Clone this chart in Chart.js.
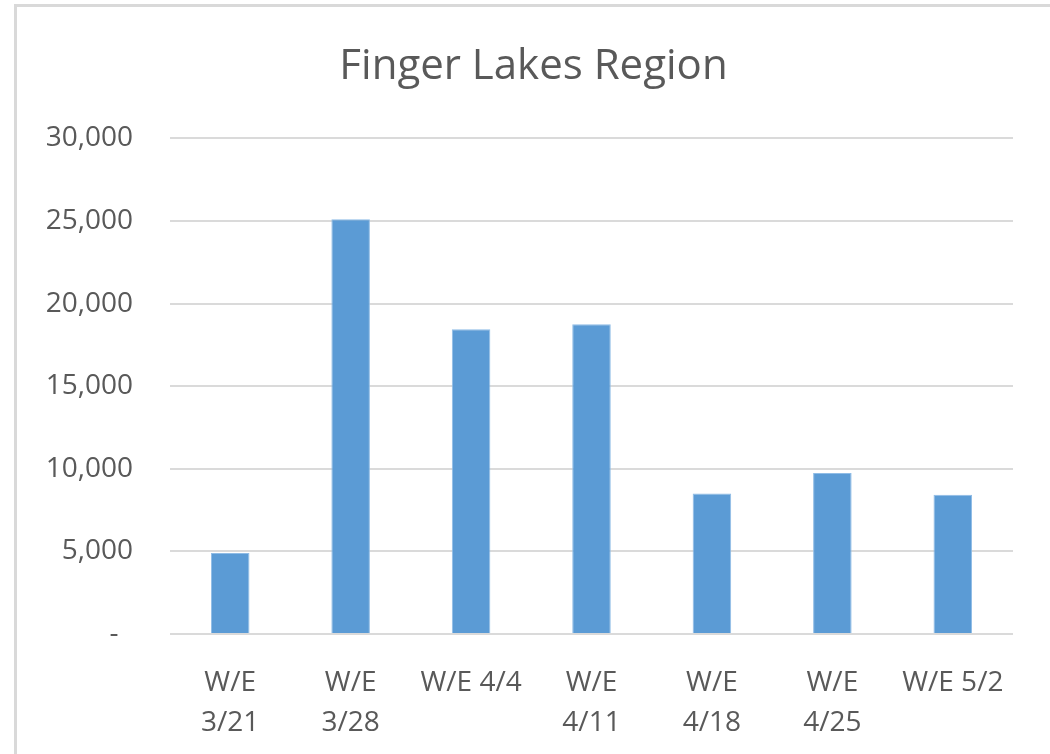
<!DOCTYPE html>
<html>
<head>
<meta charset="utf-8">
<script src="https://cdn.jsdelivr.net/npm/chart.js@4"></script>
<style>
    html, body { margin: 0; padding: 0; background: #ffffff; overflow: hidden; }
    .frame {
        position: absolute;
        left: 14px;
        top: 4px;
        border-left: 3px solid #d9d9d9;
        border-top: 3px solid #d9d9d9;
    }
    canvas { display: block; }
</style>
</head>
<body>
<div class="frame">
    <canvas id="regionChart" width="1033" height="747"></canvas>
</div>
<script>
const weekLabels = [
    ['W/E', '3/21'],
    ['W/E', '3/28'],
    'W/E 4/4',
    ['W/E', '4/11'],
    ['W/E', '4/18'],
    ['W/E', '4/25'],
    'W/E 5/2',
];
const weeklyCounts = [4900, 25100, 18450, 18750, 8500, 9750, 8430];
const yTickValues = [0, 5000, 10000, 15000, 20000, 25000, 30000];

const textColor = '#595959';
const fontFamily = '"Open Sans", "Noto Sans", sans-serif';

const ctx = document.getElementById('regionChart').getContext('2d');
new Chart(ctx, {
    type: 'bar',
    data: {
        labels: weekLabels,
        datasets: [
            {
                label: 'Finger Lakes Region',
                data: weeklyCounts,
                backgroundColor: '#5b9bd5',
                borderColor: '#8fbce6',
                borderWidth: 1,
                categoryPercentage: 1,
                barPercentage: 0.32,
            },
        ],
    },
    options: {
        responsive: false,
        animation: false,
        layout: {
            padding: 0,
        },
        plugins: {
            legend: { display: false },
            tooltip: { enabled: false },
            title: {
                display: true,
                text: 'Finger Lakes Region',
                color: textColor,
                font: { family: fontFamily, size: 42, weight: 'normal', lineHeight: 1.2 },
                padding: { top: 35, bottom: 46 },
            },
        },
        scales: {
            x: {
                grid: { display: false },
                border: { display: false },
                ticks: {
                    color: textColor,
                    font: { family: fontFamily, size: 28, lineHeight: 1.43 },
                    padding: 21,
                    maxRotation: 0,
                    autoSkip: false,
                },
                afterFit: (scale) => { scale.width; scale.height = 120; },
            },
            y: {
                min: 0,
                max: 30000,
                afterBuildTicks: (scale) => {
                    scale.ticks = yTickValues.map((v) => ({ value: v }));
                },
                grid: {
                    color: '#dadada',
                    lineWidth: 2,
                    drawTicks: false,
                },
                border: { display: false },
                ticks: {
                    color: textColor,
                    font: { family: fontFamily, size: 28 },
                    padding: 37,
                    callback: (value) => value === 0 ? '-  ' : value.toLocaleString('en-US'),
                },
                afterFit: (scale) => { scale.width = 153; },
            },
            // empty right-hand axis, only keeps the right margin without shifting the title
            yRight: {
                position: 'right',
                min: 0,
                max: 30000,
                grid: { display: false },
                border: { display: false },
                ticks: { display: false },
                afterFit: (scale) => { scale.width = 37; },
            },
        },
    },
});
</script>
</body>
</html>
